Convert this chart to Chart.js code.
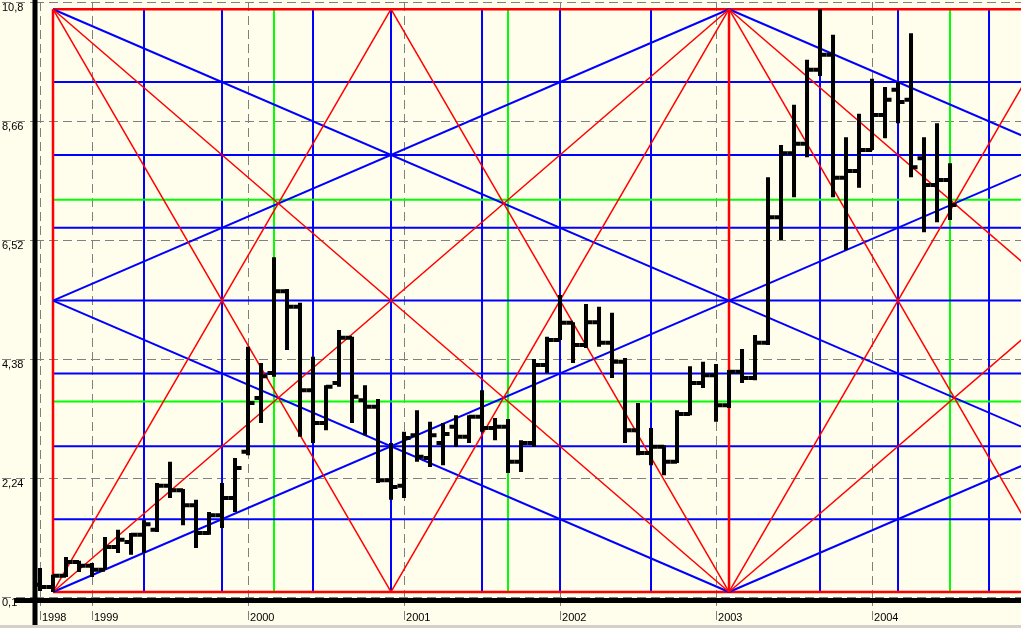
<!DOCTYPE html>
<html>
<head>
<meta charset="utf-8">
<script src="https://cdn.jsdelivr.net/npm/chart.js@4"></script>
<style>
    html, body { margin: 0; padding: 0; background: #fffdeb; overflow: hidden; }
    canvas { display: block; }
</style>
</head>
<body>
<canvas id="gannChart" width="1021" height="628"></canvas>
<script>
// monthly bars, index 0 = Sep 1998
const opens =
[
    0.32, 0.28, 0.48, 0.73, 0.66, 0.59, 1.00, 1.09, 1.22, 1.31,
    2.10, 2.02, 1.75, 1.25, 1.57, 1.88, 2.71, 3.68, 4.13, 5.60,
    5.32, 3.82, 3.23, 3.95, 4.76, 3.64, 3.52, 2.20, 2.10, 3.01,
    2.60, 2.87, 3.16, 2.98, 3.34, 3.14, 3.16, 2.53, 2.87, 4.27,
    4.72, 5.03, 4.63, 5.04, 4.67, 4.33, 3.10, 2.69, 2.80, 2.53,
    3.39, 3.95, 4.09, 3.55, 4.15, 4.04, 4.67, 6.93, 8.08, 8.25,
    9.58, 9.85, 7.64, 7.76, 8.14, 8.77, 9.22, 9.04, 7.99, 7.51, 7.60
];
const highs =
[
    0.62, 0.50, 0.82, 0.75, 0.71, 1.18, 1.31, 1.25, 1.48, 2.15,
    2.53, 2.04, 1.85, 1.63, 2.15, 2.60, 4.60, 4.31, 6.21, 5.64,
    5.39, 4.42, 3.91, 4.90, 4.78, 3.91, 3.66, 2.87, 3.07, 3.46,
    3.25, 3.23, 3.37, 3.37, 3.82, 3.32, 3.30, 2.92, 4.38, 4.78,
    5.53, 5.04, 5.37, 5.32, 5.21, 4.40, 3.59, 3.14, 2.83, 3.46,
    4.25, 4.33, 4.29, 4.18, 4.56, 4.81, 7.65, 8.23, 8.95, 9.76,
    10.67, 10.21, 8.37, 8.79, 9.42, 9.27, 9.36, 10.24, 8.37, 8.62, 7.90
];
const lows =
[
    0.21, 0.19, 0.46, 0.55, 0.46, 0.59, 0.89, 0.86, 0.89, 1.27,
    1.88, 1.39, 0.98, 1.22, 1.34, 1.63, 2.65, 3.23, 4.06, 4.54,
    2.98, 2.87, 3.10, 3.88, 3.23, 3.01, 2.15, 1.85, 1.88, 2.53,
    2.44, 2.47, 2.80, 2.87, 3.07, 2.92, 2.33, 2.35, 2.80, 4.13,
    4.72, 4.31, 4.58, 4.60, 4.04, 2.87, 2.65, 2.47, 2.29, 2.51,
    3.37, 3.86, 3.25, 3.50, 3.95, 4.00, 4.63, 6.52, 7.29, 8.01,
    9.47, 7.29, 6.34, 7.46, 8.14, 8.35, 8.62, 7.65, 6.66, 6.84, 6.88
];
const closes =
[
    0.28, 0.48, 0.73, 0.66, 0.59, 1.00, 1.13, 1.22, 1.41, 2.10,
    2.02, 1.75, 1.25, 1.57, 1.88, 2.42, 3.59, 4.07, 5.60, 5.32,
    3.82, 3.23, 3.88, 4.76, 3.70, 3.52, 2.20, 2.08, 2.96, 2.62,
    3.01, 3.03, 2.98, 3.34, 3.14, 3.16, 2.53, 2.87, 4.27, 4.72,
    5.03, 4.63, 5.04, 4.67, 4.33, 3.10, 2.69, 2.80, 2.53, 3.39,
    3.95, 4.09, 3.55, 4.15, 4.04, 4.67, 6.93, 8.08, 8.25, 9.58,
    9.85, 7.64, 7.76, 8.14, 8.77, 9.04, 9.00, 7.83, 7.51, 7.60, 7.15
];

const xTickMonths = [0, 4, 16, 28, 40, 52, 64];
const xTickLabels = ["1998", "1999", "2000", "2001", "2002", "2003", "2004"];
const yTicks = [0.1, 2.24, 4.38, 6.52, 8.66, 10.8];
const yTickLabels = ["0,1", "2,24", "4,38", "6,52", "8,66", "10,8"];

// gann grid: [month, level], level 0 = low of box, 1 = high of box
const redDiagonals =
[
    [1, 1, 27, 0], [1, 0, 27, 1], [27, 1, 53, 0], [27, 0, 53, 1], [53, 1, 79, 0], [53, 0, 79, 1],
    [1, 1, 53, 0], [1, 0, 53, 1], [53, 1, 105, 0], [53, 0, 105, 1]
];
const blueDiagonals =
[
    [1, 1, 105, 0], [1, 0.5, 53, 1], [1, 0.5, 53, 0], [1, 0, 105, 1], [53, 1, 157, 0], [53, 0, 157, 1]
];
const redVerticals = [1, 53];
const blueVerticals = [8, 14, 21, 27, 34, 40, 47, 60, 66, 73];
const greenVerticals = [18, 36, 70];
const redLevels = [0, 1];
const blueLevels = [1 / 8, 2 / 8, 3 / 8, 4 / 8, 5 / 8, 6 / 8, 7 / 8];
const greenLevels = [17 / 52, 35 / 52];

const lo = Math.min(...lows);
const hi = Math.max(...highs);
const level = f => lo + (hi - lo) * f;

function seg(m1, f1, m2, f2, color, width, order)
{
    return {
        data: [{ x: m1, y: level(f1) }, { x: m2, y: level(f2) }],
        borderColor: color,
        borderWidth: width,
        borderCapStyle: "butt",
        pointRadius: 0,
        tension: 0,
        fill: false,
        order: order
    };
}

const gannDatasets = [];
redDiagonals.forEach(d => gannDatasets.push(seg(d[0], d[1], d[2], d[3], "#ff0000", 1.5, 0)));
blueDiagonals.forEach(d => gannDatasets.push(seg(d[0], d[1], d[2], d[3], "#0000ff", 2, 0)));
blueLevels.forEach(f => gannDatasets.push(seg(1, f, 110, f, "#0000ff", 2, 2)));
greenLevels.forEach(f => gannDatasets.push(seg(1, f, 110, f, "#00ff00", 2, 2)));
blueVerticals.forEach(m => gannDatasets.push(seg(m, 0, m, 1, "#0000ff", 2, 2)));
greenVerticals.forEach(m => gannDatasets.push(seg(m, 0, m, 1, "#00ff00", 2, 2)));
redLevels.forEach(f => gannDatasets.push(seg(1, f, 110, f, "#ff0000", 2.5, 1)));
redVerticals.forEach(m => gannDatasets.push(seg(m, 0, m, 1, "#ff0000", 2.5, 1)));

const background =
{
    id: "background",
    beforeDraw(chart)
    {
        const ctx = chart.ctx;
        ctx.save();
        ctx.fillStyle = "#fffdeb";
        ctx.fillRect(0, 0, chart.width, chart.height);
        ctx.restore();
    }
};

const ohlcBars =
{
    id: "ohlcBars",
    afterDatasetsDraw(chart)
    {
        const { ctx, scales: { x, y } } = chart;
        const tick = (x.getPixelForValue(1) - x.getPixelForValue(0)) / 2;
        ctx.save();
        ctx.strokeStyle = "#000";
        ctx.lineWidth = 4;
        ctx.lineCap = "butt";
        highs.forEach((h, i) =>
        {
            const px = x.getPixelForValue(i);
            const pO = y.getPixelForValue(opens[i]);
            const pC = y.getPixelForValue(closes[i]);
            ctx.beginPath();
            ctx.moveTo(px, y.getPixelForValue(h));
            ctx.lineTo(px, y.getPixelForValue(lows[i]));
            ctx.moveTo(px - tick, pO);
            ctx.lineTo(px, pO);
            ctx.moveTo(px, pC);
            ctx.lineTo(px + tick, pC);
            ctx.stroke();
        });
        ctx.restore();
    }
};

const axes =
{
    id: "axes",
    afterDraw(chart)
    {
        const { ctx, chartArea } = chart;
        ctx.save();
        ctx.fillStyle = "#000";
        ctx.fillRect(chartArea.left - 2.5, 0, 5, chart.height - 3);
        ctx.fillRect(15, chartArea.bottom + 1, chart.width - 15, 5);
        ctx.fillStyle = "#d4d0c8";
        ctx.fillRect(0, chart.height - 3, chart.width, 3);
        ctx.restore();
    }
};

const labelFont = { family: "'Liberation Sans', Arial, sans-serif", size: 11 };

new Chart(document.getElementById("gannChart"),
{
    type: "line",
    data: { datasets: gannDatasets },
    options:
    {
        responsive: false,
        animation: false,
        events: [],
        layout: { padding: { left: 2, top: 2, right: 0, bottom: 0 } },
        plugins:
        {
            legend: { display: false },
            tooltip: { enabled: false }
        },
        scales:
        {
            x:
            {
                type: "linear",
                position: "bottom",
                min: -0.385,
                max: 75.46,
                afterBuildTicks: s => { s.ticks = xTickMonths.map(v => ({ value: v })); },
                afterFit: s => { s.height = 31; s.paddingLeft = 0; s.paddingRight = 0; },
                ticks:
                {
                    callback: (v, i) => xTickLabels[i],
                    align: "start",
                    labelOffset: 2,
                    padding: -11,
                    autoSkip: false,
                    maxRotation: 0,
                    minRotation: 0,
                    color: "#000",
                    font: labelFont
                },
                grid:
                {
                    color: "#808080",
                    lineWidth: 1,
                    drawTicks: true,
                    tickLength: 25,
                    tickColor: "#808080",
                    tickWidth: 1,
                    tickBorderDash: [9, 5]
                },
                border: { display: false, dash: [9, 5] }
            },
            y:
            {
                type: "linear",
                position: "left",
                min: 0.1,
                max: 10.8,
                afterBuildTicks: s => { s.ticks = yTicks.map(v => ({ value: v })); },
                afterFit: s => { s.width = 33; s.paddingTop = 0; s.paddingBottom = 0; },
                ticks:
                {
                    callback: (v, i) => yTickLabels[i],
                    crossAlign: "far",
                    labelOffset: 6,
                    autoSkip: false,
                    color: "#000",
                    font: labelFont
                },
                grid:
                {
                    color: "#808080",
                    lineWidth: 1,
                    drawTicks: true,
                    tickLength: 33,
                    tickColor: "#808080",
                    tickWidth: 1,
                    tickBorderDash: [9, 5]
                },
                border: { display: false, dash: [9, 5] }
            }
        }
    },
    plugins: [background, ohlcBars, axes]
});
</script>
</body>
</html>
